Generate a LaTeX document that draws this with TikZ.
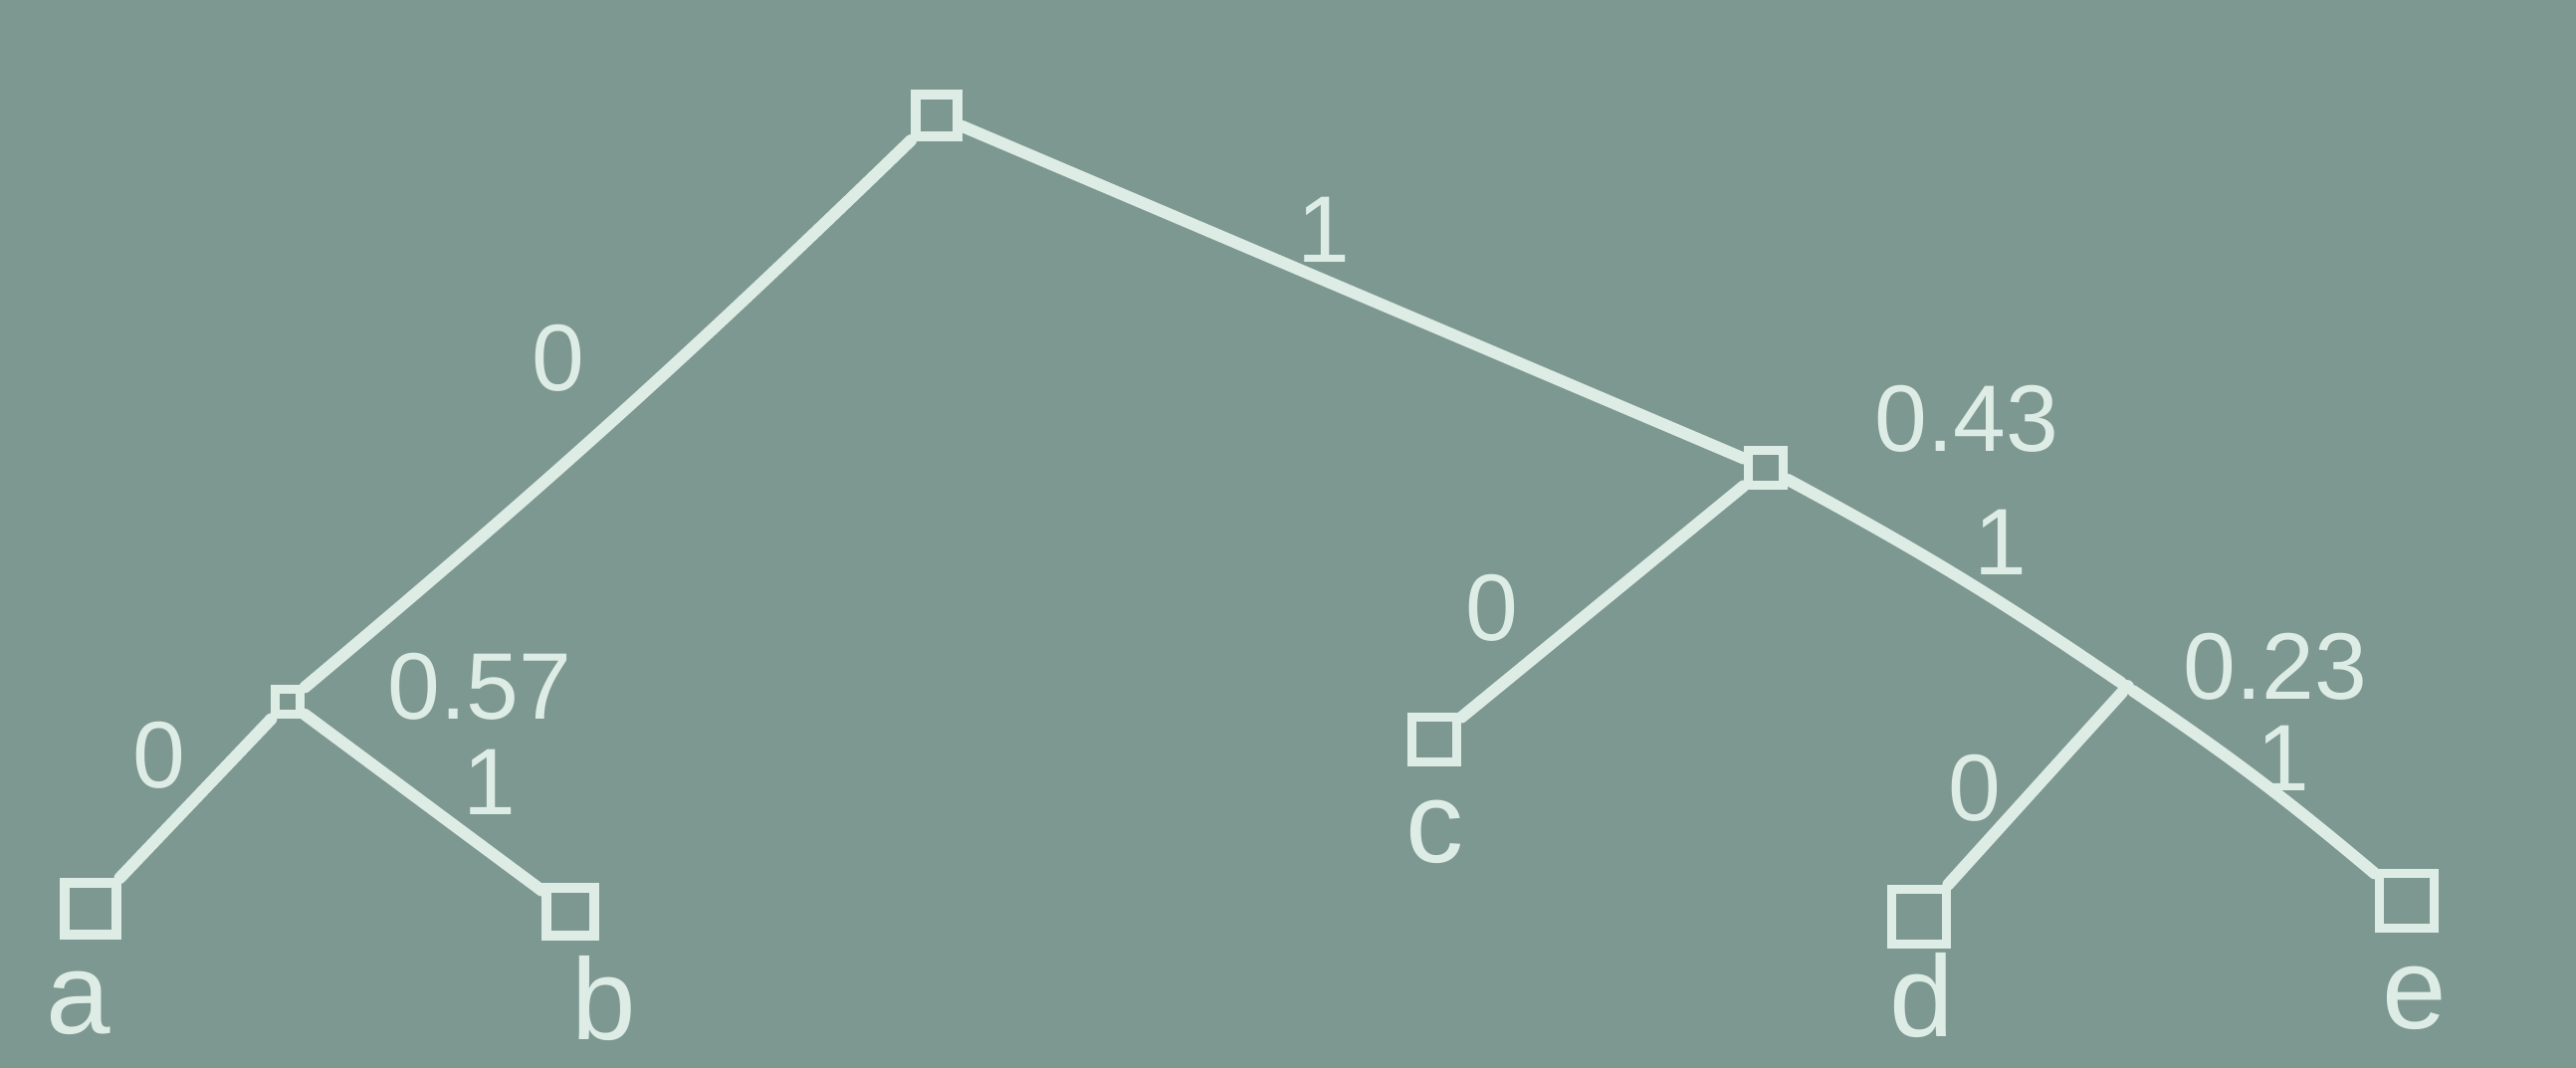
\documentclass[tikz,border=0pt]{standalone}
\usepackage{fontspec}
\setmainfont{Liberation Sans}
\definecolor{board}{RGB}{125,152,145}
\definecolor{chalk}{RGB}{222,236,230}
\begin{document}
\begin{tikzpicture}[x=0.01cm,y=-0.01cm,
  leaf/.style={draw=chalk,line width=2.8pt,rectangle,minimum width=#1,minimum height=#1,inner sep=0pt},
  leaf/.default=0.5cm,
  dotnode/.style={circle,fill=chalk,inner sep=0pt,minimum size=0.14cm},
  edge/.style={draw=chalk,line width=3.4pt,line cap=round},
  txt/.style={text=chalk,font=\fontsize{33}{33}\selectfont,inner sep=0pt},
  lbl/.style={text=chalk,font=\fontsize{27}{27}\selectfont,inner sep=0pt}]
\fill[board] (0,0) rectangle (2588,1073);
\useasboundingbox (0,0) rectangle (2588,1073);
% internal nodes
\node[leaf=0.42cm] (root) at (941,116) {};
\node[leaf=0.25cm] (n57) at (289,705) {};
\node[leaf=0.35cm] (n43) at (1774,470) {};
\node[dotnode] (n23) at (2137,690) {};
% leaves
\node[leaf=0.52cm] (a) at (91,913) {};
\node[leaf=0.48cm] (b) at (573,916) {};
\node[leaf=0.45cm] (c) at (1441,743) {};
\node[leaf=0.55cm] (d) at (1928,921) {};
\node[leaf=0.55cm] (e) at (2418,905) {};
% edges
\draw[edge] (root) to[bend left=2] (n57);
\draw[edge] (root) -- (n43);
\draw[edge] (n57) -- (a);
\draw[edge] (n57) -- (b);
\draw[edge] (n43) -- (c);
\draw[edge] (n43) to[bend left=3] (n23);
\draw[edge] (n23) -- (d);
\draw[edge] (n23) to[bend left=3] (e);
% leaf names
\node[txt] (ta) at (79,1008) {a};
\node[txt] (tb) at (607,1003) {b};
\node[txt] (tc) at (1441,836) {c};
\node[txt] (td) at (1931,1000) {d};
\node[txt] (te) at (2426,1003) {e};
% weights
\node[lbl] (w57) at (482,690) {0.57};
\node[lbl] (w43) at (1976,421) {0.43};
\node[lbl] (w23) at (2286,670) {0.23};
% edge bits
\node[lbl] (b1) at (561,360) {0};
\node[lbl] (b2) at (1330,231) {1};
\node[lbl] (b3) at (160,759) {0};
\node[lbl] (b4) at (492,786) {1};
\node[lbl] (b5) at (1499,611) {0};
\node[lbl] (b6) at (2010,545) {1};
\node[lbl] (b7) at (1984,792) {0};
\node[lbl] (b8) at (2294,762) {1};
\end{tikzpicture}
\end{document}
